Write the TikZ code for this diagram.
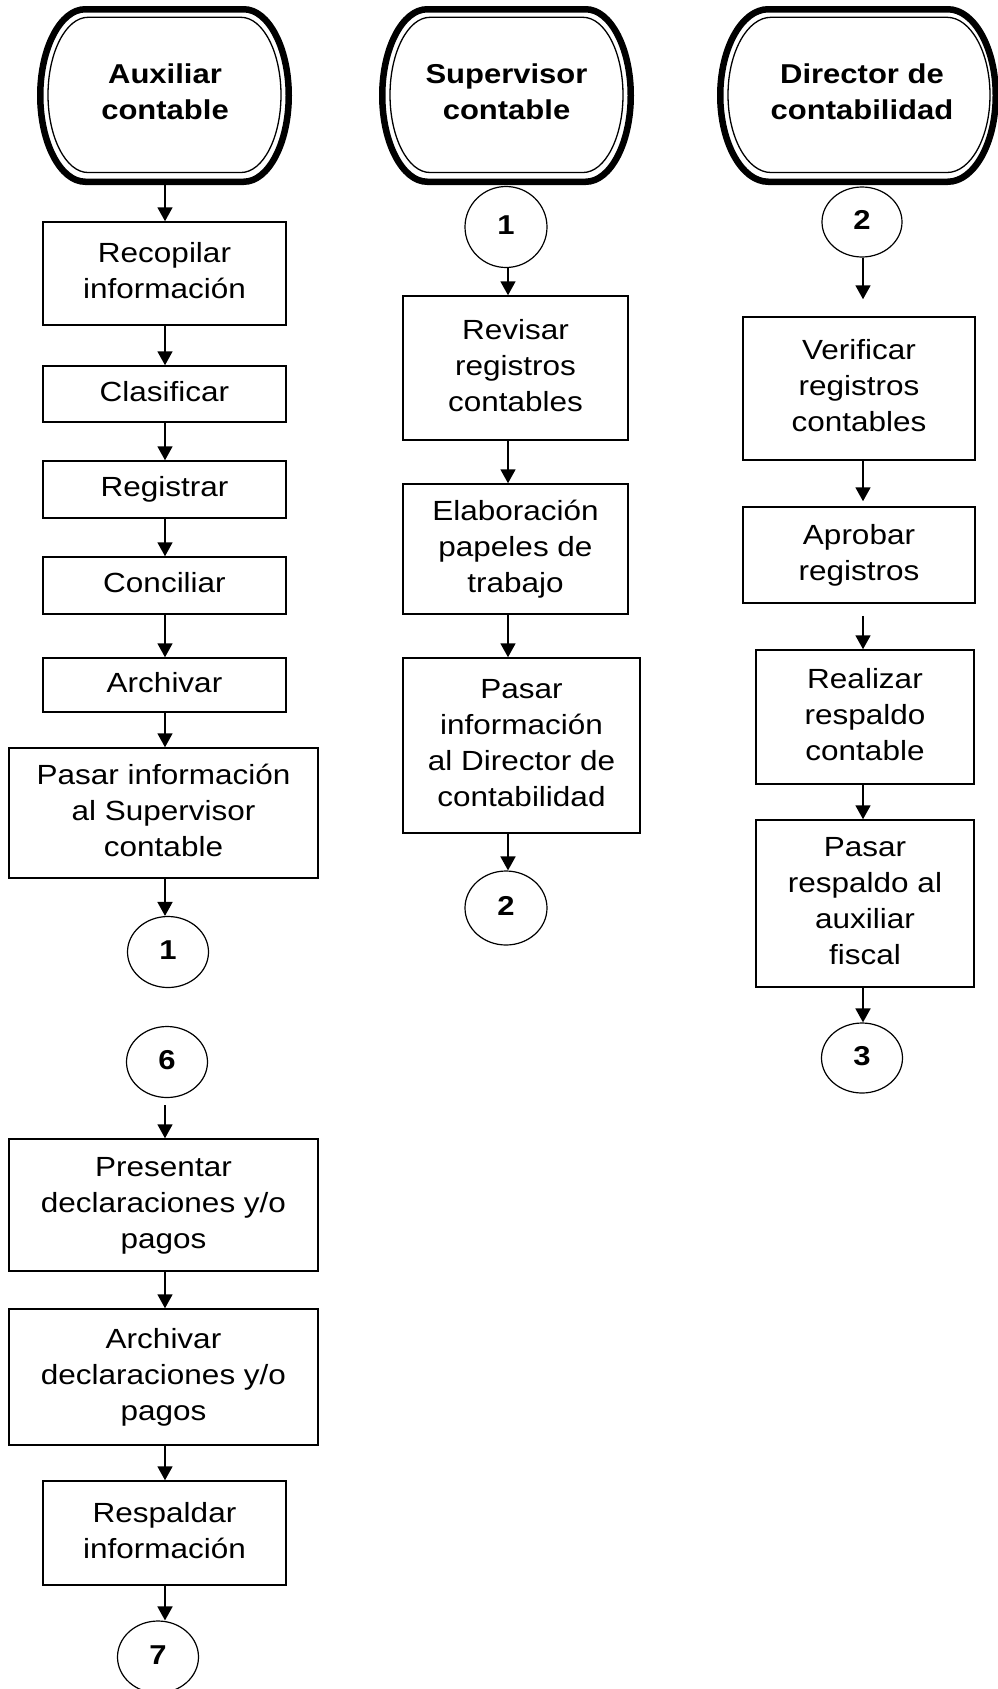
\documentclass[tikz,border=0pt]{standalone}
\usepackage{fontspec}
\setmainfont{Liberation Sans}
\usepackage{graphicx}
\usetikzlibrary{arrows.meta,shapes.geometric}

\newcommand\lbl[1]{\scalebox{1}[0.88]{\begin{tabular}{@{}c@{}}#1\end{tabular}}}
% style, L, R, T, B, a
\newcommand\hdrshape[6]{%
  \draw[#1] ({#2+#6},#4) -- ({#3-#6},#4)
    .. controls ({#3-0.45*#6},#4) and (#3,{#4+0.225*(#5-#4)}) .. (#3,{(#4+#5)/2})
    .. controls (#3,{#5-0.225*(#5-#4)}) and ({#3-0.45*#6},#5) .. ({#3-#6},#5)
    -- ({#2+#6},#5)
    .. controls ({#2+0.45*#6},#5) and (#2,{#5-0.225*(#5-#4)}) .. (#2,{(#4+#5)/2})
    .. controls (#2,{#4+0.225*(#5-#4)}) and ({#2+0.45*#6},#4) .. cycle;}

\begin{document}
\begin{tikzpicture}[x=1pt,y=-1pt,
  hdrout/.style={line width=6.5pt},
  hdrin/.style={line width=1.3pt},
  headtxt/.style={inner sep=0pt,font=\bfseries\fontsize{31}{41}\selectfont},
  stepbox/.style={draw,rectangle,line width=1.5pt,inner sep=0pt,font=\fontsize{31.5}{41}\selectfont},
  conn/.style={draw,ellipse,line width=1.2pt,inner sep=0pt,font=\bfseries\fontsize{31}{41}\selectfont},
  arr/.style={line width=1.8pt,-{Triangle[width=15pt,length=14pt]}}]
\fill[white] (0,0) rectangle (997,1689);
\useasboundingbox (0,0) rectangle (997,1689);

\coordinate (axA) at (165,0);
\coordinate (axB) at (508,0);
\coordinate (axC) at (863,0);

% ---------- headers
\hdrshape{hdrout}{40.25}{288.75}{9.25}{181.75}{45}
\hdrshape{hdrin}{48}{281}{17.3}{172.5}{40}
\node[headtxt] (h1) at (165,94) {\lbl{Auxiliar\\contable}};
\coordinate (h1b) at (165,185);

\hdrshape{hdrout}{382.25}{630.75}{9.25}{181.75}{45}
\hdrshape{hdrin}{390}{623}{17.3}{172.5}{40}
\node[headtxt] (h2) at (506.5,94) {\lbl{Supervisor\\contable}};

\hdrshape{hdrout}{720.25}{995.75}{9.25}{181.75}{48}
\hdrshape{hdrin}{728}{990}{17.3}{172.5}{43}
\node[headtxt] (h3) at (862,94) {\lbl{Director de\\contabilidad}};

% ---------- column 1
\node[stepbox,minimum width=243,minimum height=103] (rec) at (164.5,273.5) {\lbl{Recopilar\\información}};
\node[stepbox,minimum width=243,minimum height=56] (cla) at (164.5,394) {\lbl{Clasificar}};
\node[stepbox,minimum width=243,minimum height=57] (reg) at (164.5,489.5) {\lbl{Registrar}};
\node[stepbox,minimum width=243,minimum height=57] (con) at (164.5,585.5) {\lbl{Conciliar}};
\node[stepbox,minimum width=243,minimum height=54] (arc) at (164.5,685) {\lbl{Archivar}};
\node[stepbox,minimum width=309,minimum height=130] (pas1) at (163.5,813) {\lbl{Pasar información\\al Supervisor\\contable}};
\node[conn,minimum width=81,minimum height=71] (c1a) at (168,952) {\lbl{1}};
\node[conn,minimum width=81,minimum height=71] (c6) at (167,1062) {\lbl{6}};
\node[stepbox,minimum width=309,minimum height=132] (pre) at (163.5,1205) {\lbl{Presentar\\declaraciones y/o\\pagos}};
\node[stepbox,minimum width=309,minimum height=136] (ard) at (163.5,1377) {\lbl{Archivar\\declaraciones y/o\\pagos}};
\node[stepbox,minimum width=243,minimum height=104] (res) at (164.5,1533) {\lbl{Respaldar\\información}};
\node[conn,minimum width=81,minimum height=72] (c7) at (158,1657) {\lbl{7}};

\draw[arr] (h1b) -- (rec.north -| axA);
\draw[arr] (rec.south -| axA) -- (cla.north -| axA);
\draw[arr] (cla.south -| axA) -- (reg.north -| axA);
\draw[arr] (reg.south -| axA) -- (con.north -| axA);
\draw[arr] (con.south -| axA) -- (arc.north -| axA);
\draw[arr] (arc.south -| axA) -- (pas1.north -| axA);
\draw[arr] (pas1.south -| axA) -- (c1a.north -| axA);
\draw[arr,shorten <=7pt] (c6.south -| axA) -- (pre.north -| axA);
\draw[arr] (pre.south -| axA) -- (ard.north -| axA);
\draw[arr] (ard.south -| axA) -- (res.north -| axA);
\draw[arr] (res.south -| axA) -- (c7.north -| axA);

% ---------- column 2
\node[conn,minimum width=82,minimum height=81] (s1) at (506,227) {\lbl{1}};
\node[stepbox,minimum width=225,minimum height=144] (rev) at (515.5,368) {\lbl{Revisar\\registros\\contables}};
\node[stepbox,minimum width=225,minimum height=130] (ela) at (515.5,549) {\lbl{Elaboración\\papeles de\\trabajo}};
\node[stepbox,minimum width=237,minimum height=175] (pas2) at (521.5,745.5) {\lbl{Pasar\\información\\al Director de\\contabilidad}};
\node[conn,minimum width=82,minimum height=74] (s2) at (506,908) {\lbl{2}};

\draw[arr] (s1.south -| axB) -- (rev.north -| axB);
\draw[arr] (rev.south -| axB) -- (ela.north -| axB);
\draw[arr] (ela.south -| axB) -- (pas2.north -| axB);
\draw[arr] (pas2.south -| axB) -- (s2.north -| axB);

% ---------- column 3
\node[conn,minimum width=80,minimum height=70] (d2) at (862,222) {\lbl{2}};
\node[stepbox,minimum width=232,minimum height=143] (ver) at (859,388.5) {\lbl{Verificar\\registros\\contables}};
\node[stepbox,minimum width=232,minimum height=96] (apr) at (859,555) {\lbl{Aprobar\\registros}};
\node[stepbox,minimum width=218,minimum height=134] (rea) at (865,717) {\lbl{Realizar\\respaldo\\contable}};
\node[stepbox,minimum width=218,minimum height=167] (pr3) at (865,903.5) {\lbl{Pasar\\respaldo al\\auxiliar\\fiscal}};
\node[conn,minimum width=81,minimum height=70] (d3) at (862,1058) {\lbl{3}};

\draw[arr,shorten >=17pt] (d2.south -| axC) -- (ver.north -| axC);
\draw[arr,shorten >=5pt] (ver.south -| axC) -- (apr.north -| axC);
\draw[arr,shorten <=12pt] (apr.south -| axC) -- (rea.north -| axC);
\draw[arr] (rea.south -| axC) -- (pr3.north -| axC);
\draw[arr] (pr3.south -| axC) -- (d3.north -| axC);
\end{tikzpicture}
\end{document}
